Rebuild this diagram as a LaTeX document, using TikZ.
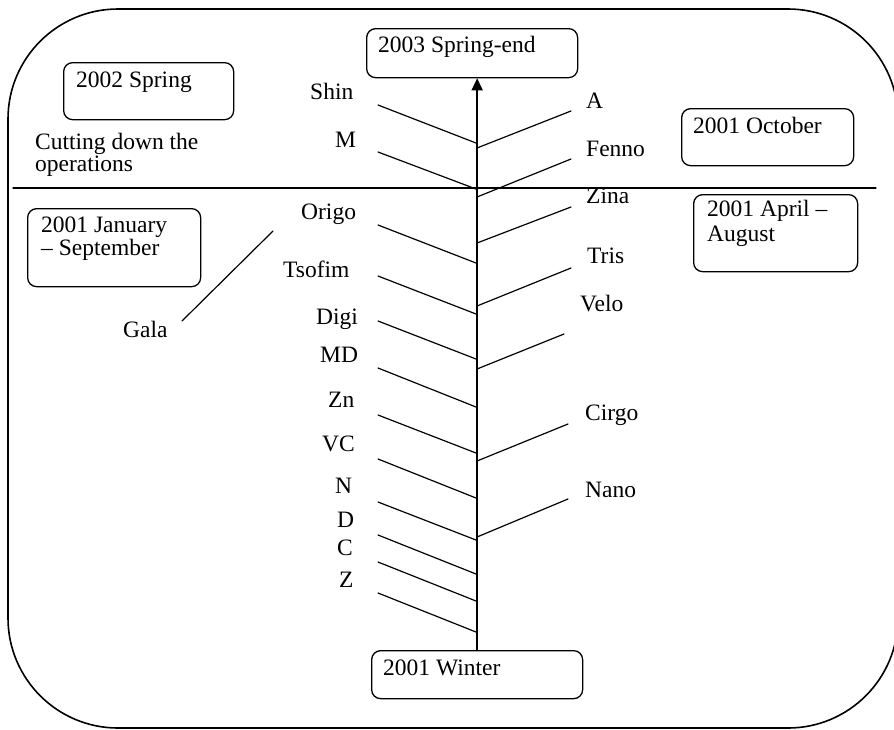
\documentclass[tikz,border=0pt]{standalone}
\usepackage{fontspec}
\setmainfont{Liberation Serif}
\usetikzlibrary{arrows.meta}

\begin{document}
\begin{tikzpicture}[x=1pt,y=-1pt,>=Latex,line cap=round,line join=round]
\useasboundingbox (0,0) rectangle (894,729);
\tikzset{frame/.style={draw=black,line width=1.6pt,rounded corners=110pt},tbox/.style={draw=black,line width=1.3pt,rounded corners=9pt,anchor=north west,inner sep=0pt},lbl/.style={font=\fontsize{23.5}{18}\selectfont,anchor=base west,inner sep=0pt,align=left},twig/.style={draw=black,line width=1.2pt},spine/.style={draw=black,line width=1.6pt,-{Triangle[length=12pt,width=11pt]}}}
\path[frame] (8,9) rectangle (898,728);
\draw[twig] (13,188) -- (876,188);
% period boxes
\node[tbox,minimum width=211,minimum height=49] (springend) at (366,28) {};
\node[tbox,minimum width=170,minimum height=57] (spring02) at (63,62) {};
\node[tbox,minimum width=172,minimum height=57] (october) at (681,108) {};
\node[tbox,minimum width=173,minimum height=78] (jansep) at (27,208) {};
\node[tbox,minimum width=164,minimum height=77] (apraug) at (693,194) {};
\node[tbox,minimum width=211,minimum height=48] (winter) at (371,650) {};
\node[lbl] (springendtxt) at (378,52) {2003 Spring-end};
\node[lbl] (spring02txt) at (76,87) {2002 Spring};
\node[lbl] (octobertxt) at (693,133) {2001 October};
\node[lbl] (janseptxt) at (41,255) {2001 January\\– September};
\node[lbl] (aprugtxt) at (707,241) {2001 April –\\[3pt]August};
\node[lbl] (wintertxt) at (383,675) {2001 Winter};
\node[lbl] (cutting) at (35,171) {Cutting down the\\operations};
% time axis
\draw[spine] (winter.north) -- (winter.north |- springend.south);
% firms on the left
\node[lbl] (shin) at (310,99) {Shin};
\node[lbl] (m) at (335,147) {M};
\node[lbl] (origo) at (301,219) {Origo};
\node[lbl] (tsofim) at (283,277) {Tsofim};
\node[lbl] (digi) at (316,324) {Digi};
\node[lbl] (md) at (320,362) {MD};
\node[lbl] (zn) at (328,407) {Zn};
\node[lbl] (vc) at (322,451) {VC};
\node[lbl] (n) at (335,493) {N};
\node[lbl] (d) at (337,527) {D};
\node[lbl] (c) at (337,555) {C};
\node[lbl] (z) at (339,587) {Z};
\node[lbl] (gala) at (123,337) {Gala};
\foreach \ya/\yb in {105/143,152/189,225/263,276/314,321/359,368/407,415/453,459/498,502/540,535/574,562/601,593/632}
  \draw[twig] (378,\ya) -- (476,\yb);
\draw[twig] (182,321) -- (273,231);
% firms on the right
\node[lbl] (a) at (586,108) {A};
\node[lbl] (fenno) at (586,156) {Fenno};
\node[lbl] (zina) at (586,203) {Zina};
\node[lbl] (tris) at (587,263) {Tris};
\node[lbl] (velo) at (580,311) {Velo};
\node[lbl] (cirgo) at (585,420) {Cirgo};
\node[lbl] (nano) at (585,497) {Nano};
\foreach \ya/\xb/\yb in {148/571/111,197/571/159,243/571/207,306/571/268,369/564/334,461/568/424,537/568/499}
  \draw[twig] (477,\ya) -- (\xb,\yb);
\end{tikzpicture}
\end{document}
